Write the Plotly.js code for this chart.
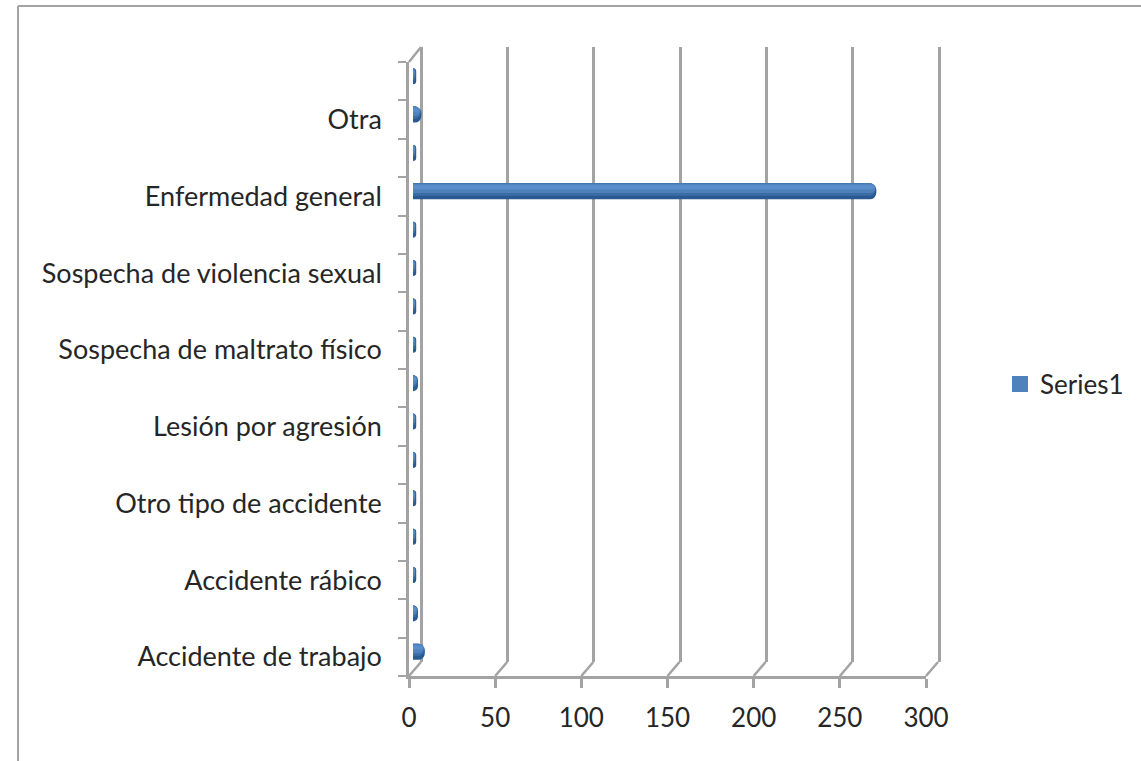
<!DOCTYPE html>
<html><head><meta charset="utf-8">
<script src="https://cdn.plot.ly/plotly-3.0.1.min.js"></script>
<style>html,body{margin:0;padding:0;background:#fff}#c{width:1141px;height:761px}</style>
</head><body><div id="c"></div>
<script>
const categories = ["Accidente de trabajo"," ","Accidente rábico","  ","Otro tipo de accidente","   ","Lesión por agresión","    ","Sospecha de maltrato físico","     ","Sospecha de violencia sexual","      ","Enfermedad general","       ","Otra","        "];
const values = [6,2,1,1,1,1,1,2,1,1,1,1,268,1,4,1];
const xTicks = [0,50,100,150,200,250,300];
const W=1141,H=761;
const px=(a,b)=>[a/W,b/W], py=(top,bot)=>[1-bot/H,1-top/H];
const grey='#a3a3a3';
const yCommon={type:'category',categoryorder:'array',categoryarray:categories,range:[-0.5,15.5]};
const frame={color:'#a3a3a3',width:2};
const shapes=[
 {type:'line',xref:'paper',yref:'paper',x0:18/W,x1:1,y0:1-6/H,y1:1-6/H,line:frame,layer:'below'},
 {type:'line',xref:'paper',yref:'paper',x0:18/W,x1:18/W,y0:0,y1:1-6/H,line:frame,layer:'below'}
];
// depth connectors from the front axis to the back wall
const frontX=v=>(409+v*517/300)/W;
xTicks.forEach(v=>shapes.push({type:'line',xref:'paper',yref:'paper',x0:frontX(v),x1:frontX(v)+12/W,y0:1-676/H,y1:1-662/H,line:{color:grey,width:2.5},layer:'below'}));
shapes.push({type:'line',xref:'paper',yref:'paper',x0:frontX(0),x1:frontX(0)+12/W,y0:1-62/H,y1:1-47/H,line:{color:grey,width:2.5},layer:'below'});
const bar=(color,width,offset,line)=>({type:'bar',orientation:'h',name:'Series1',x:values,y:categories,xaxis:'x3',yaxis:'y3',
  marker:{color,cornerradius:5,line:{color,width:line}},width,offset,showlegend:false,hoverinfo:'x+y'});
const traces=[
  {type:'scatter',x:values,y:categories,xaxis:'x',yaxis:'y',mode:'none',showlegend:false,hoverinfo:'skip'},
  {type:'scatter',x:values,y:categories,xaxis:'x2',yaxis:'y2',mode:'none',showlegend:false,hoverinfo:'skip'},
  bar('#2b5a92',0.34,-0.17,3),
  bar('#3a6da8',0.30,-0.10,1),
  bar('#4f81bd',0.22,-0.03,1),
  bar('#5a8dcb',0.10,0.06,0.5),
  {type:'bar',orientation:'h',name:'Series1',x:values.map(()=>null),y:categories,xaxis:'x3',yaxis:'y3',showlegend:true,hoverinfo:'skip',
   marker:{color:'#4f81bd',line:{color:'#4f81bd',width:4}}}
];
const layout={width:W,height:H,margin:{l:0,r:0,t:0,b:0},paper_bgcolor:'#fff',plot_bgcolor:'rgba(0,0,0,0)',barmode:'overlay',
  font:{family:'Lato, Carlito, sans-serif',size:27,color:'#262626'},
  xaxis:{domain:px(409,926),range:[0,300],tickmode:'array',tickvals:xTicks,ticks:'outside',ticklen:9,tickwidth:2.5,tickcolor:grey,showgrid:false,zeroline:false,showline:true,linecolor:grey,linewidth:2.5,anchor:'y',tickfont:{size:26},ticklabelstandoff:8},
  yaxis:Object.assign({},yCommon,{domain:py(62,676),anchor:'x',ticks:'outside',tickson:'boundaries',ticklen:8,tickwidth:2,tickcolor:grey,showline:true,linecolor:grey,linewidth:2.5,showgrid:false,zeroline:false,tickfont:{size:27},ticklabelstandoff:19}),
  xaxis2:{domain:px(417.55,942.45),range:[-2,302],anchor:'y2',tickmode:'array',tickvals:xTicks,showticklabels:false,ticks:'',showgrid:true,gridcolor:grey,gridwidth:2.5,zeroline:false,showline:false},
  yaxis2:Object.assign({},yCommon,{domain:py(47,662),anchor:'x2',showticklabels:false,ticks:'',showgrid:false,zeroline:false,showline:false}),
  xaxis3:{domain:px(413,930),range:[0,300],anchor:'y3',showticklabels:false,ticks:'',showgrid:false,zeroline:false,showline:false},
  yaxis3:Object.assign({},yCommon,{domain:py(57,671),anchor:'x3',showticklabels:false,ticks:'',showgrid:false,zeroline:false,showline:false}),
  legend:{x:1010/W,y:1-384/H,xanchor:'left',yanchor:'middle',bgcolor:'rgba(0,0,0,0)',itemwidth:30,indentation:-10,font:{size:26}},
  shapes
};
Plotly.newPlot('c',traces,layout,{displayModeBar:false});
</script></body></html>
